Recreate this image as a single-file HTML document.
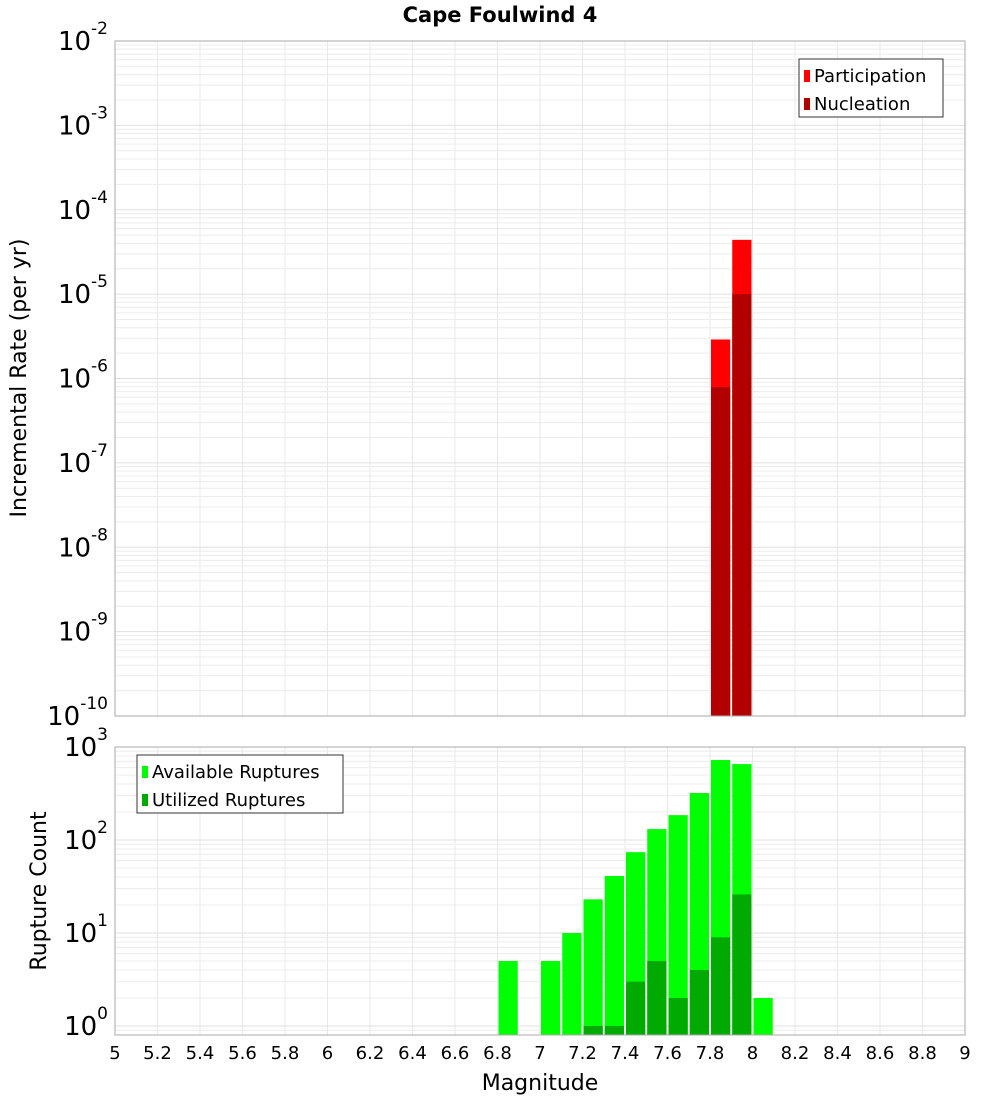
<!DOCTYPE html>
<html><head><meta charset="utf-8"><style>
body{margin:0;background:#fff}
svg{display:block;font-family:"DejaVu Sans","Liberation Sans",sans-serif}
</style></head><body>
<svg id="c" width="1000" height="1100" xmlns="http://www.w3.org/2000/svg">
<text x="500" y="22" text-anchor="middle" font-size="21" font-weight="bold">Cape Foulwind 4</text>
<g id="topPlot"></g>
<g id="botPlot"></g>
<text transform="translate(26,378) rotate(-90)" text-anchor="middle" font-size="22">Incremental Rate (per yr)</text>
<text transform="translate(46,891) rotate(-90)" text-anchor="middle" font-size="22">Rupture Count</text>
<text x="540" y="1090" text-anchor="middle" font-size="22">Magnitude</text>
</svg>
<script>
const binCenters=[6.85,6.95,7.05,7.15,7.25,7.35,7.45,7.55,7.65,7.75,7.85,7.95,8.05];
const available=[5,0,5,10,23,41,74,131,185,320,724,655,2];
const utilized=[0,0,0,0,1,1,3,5,2,4,9,26,0];
const rateMags=[7.85,7.95];
const participation=[2.9e-6,4.4e-5];
const nucleation=[7.9e-7,1.0e-5];
const xTicks=[5,5.2,5.4,5.6,5.8,6,6.2,6.4,6.6,6.8,7,7.2,7.4,7.6,7.8,8,8.2,8.4,8.6,8.8,9];
const rateExp=[-2,-3,-4,-5,-6,-7,-8,-9,-10];
const countExp=[0,1,2,3];

const NS="http://www.w3.org/2000/svg";
const L=115,R=965;
const X=m=>L+(m-5)/4*(R-L);
const TT=41,TB=716;
const Yr=v=>TT+(-2-Math.log10(v))*(TB-TT)/8;
const BT=747,BB=1035,dec=93,b0=1026;
const Yc=v=>b0-Math.log10(v)*dec;
function mk(p,t,a){const e=document.createElementNS(NS,t);for(const k in a)e.setAttribute(k,a[k]);p.appendChild(e);return e;}
const topG=document.getElementById('topPlot'),botG=document.getElementById('botPlot');
function grid(g,y0,y1,yf,emin,emax){
  for(const t of xTicks){const l=mk(g,'line',{x1:X(t),x2:X(t),y1:y0,y2:y1,stroke:'#e8e8e8'});
  
  }
  for(let e=emin;e<=emax;e++)for(let k=1;k<10;k++){const y=yf(k*Math.pow(10,e));if(y<y0-0.5||y>y1+0.5)continue;
    const l=mk(g,'line',{x1:L,x2:R,y1:y,y2:y,stroke:k==1?'#e0e0e0':'#ececec'});
    
    }
}
grid(topG,TT,TB,Yr,-10,-3);
grid(botG,BT,BB,Yc,-1,2);
const w=X(5.1)-X(5)-2;
rateMags.forEach((m,i)=>{
  const x=X(m-0.05)+1;
  let r=mk(topG,'rect',{x:x,y:Yr(participation[i]),width:w,height:TB-Yr(participation[i]),fill:'#ff0000'});
  
  
  r=mk(topG,'rect',{x:x,y:Yr(nucleation[i]),width:w,height:TB-Yr(nucleation[i]),fill:'#b20000'});
  
  
});
binCenters.forEach((m,i)=>{
  const x=X(m-0.05)+1;
  if(available[i]>0){const y=Yc(available[i]);const r=mk(botG,'rect',{x:x,y:y,width:w,height:BB-y,fill:'#00ff00'});
  
  }
  if(utilized[i]>0){const y=Yc(utilized[i]);const r=mk(botG,'rect',{x:x,y:y,width:w,height:BB-y,fill:'#00aa00'});
  
  }
});
let f=mk(topG,'rect',{x:L,y:TT,width:R-L,height:TB-TT,fill:'none',stroke:'#aaa'});


f=mk(botG,'rect',{x:L,y:BT,width:R-L,height:BB-BT,fill:'none',stroke:'#aaa'});


function ylab(g,y,e,name){const t=mk(g,'text',{x:108,y:y+9,'text-anchor':'end','font-size':26});
  
  
  t.textContent='10';const s=mk(t,'tspan',{dy:-16,'font-size':17});s.textContent=String(e);}
rateExp.forEach(e=>ylab(topG,Yr(Math.pow(10,e)),e,'rate-tick-label'));
countExp.forEach(e=>ylab(botG,Yc(Math.pow(10,e)),e,'count-tick-label'));
xTicks.forEach(t=>{const e=mk(botG,'text',{x:X(t),y:1059,'text-anchor':'middle','font-size':18});
  
  
  e.textContent=String(t);});
function legend(g,x,y,wd,items,name){const gg=mk(g,'g',{});
  
  
  mk(gg,'rect',{x:x,y:y,width:wd,height:58,fill:'#fff',stroke:'#333'});
  items.forEach((it,i)=>{mk(gg,'rect',{x:x+5,y:y+11+i*28,width:6,height:12,fill:it[1]});
    const t=mk(gg,'text',{x:x+15,y:y+23+i*28,'font-size':18});t.textContent=it[0];});}
legend(topG,799,59,144,[['Participation','#ff0000'],['Nucleation','#b20000']],'rate-legend');
legend(botG,137,755,206,[['Available Ruptures','#00ff00'],['Utilized Ruptures','#00aa00']],'count-legend');
</script>
</body></html>
